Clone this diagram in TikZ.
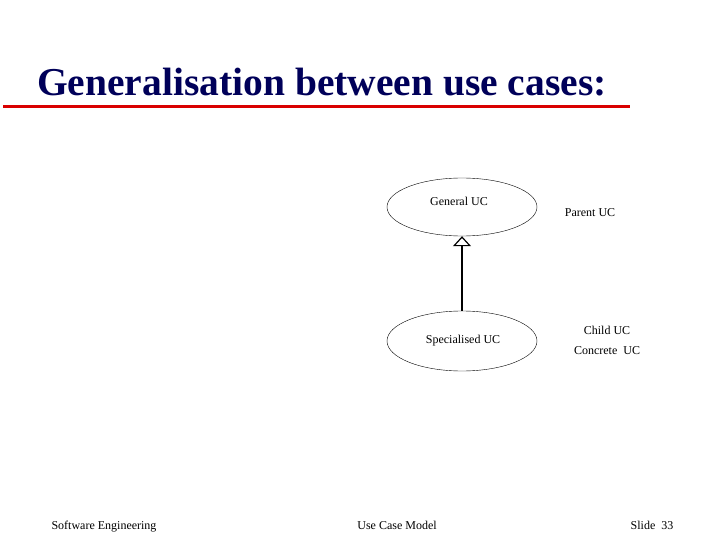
\documentclass[tikz,border=0pt]{standalone}
\usepackage{fontspec}
\usetikzlibrary{shapes.geometric,arrows.meta}
\setmainfont{Liberation Serif}
\begin{document}
\begin{tikzpicture}[x=1pt,y=-1pt,
  uc/.style={draw,ellipse,minimum width=150pt,minimum height=58pt,inner sep=0pt},
  lbl/.style={font=\fontsize{12}{14}\selectfont,inner sep=0pt},
  foot/.style={lbl,anchor=base},
  gen/.style={-{Triangle[open,length=10pt,width=18pt]},line width=1.2pt}]
\useasboundingbox (0,0) rectangle (720,540);
\node[anchor=west,inner sep=0pt,text=blue!35!black,font=\fontsize{39.5}{44}\selectfont\bfseries] (title) at (37,82) {Generalisation between use cases:};
\draw[red!85!black,line width=3pt] (3,107) coordinate (l1) -- (630,107) coordinate (l2);
\node[uc] (g) at (462,207) {};
\node[lbl] (gt) at (459,201) {General UC};
\node[uc,minimum height=60pt] (s) at (462,341) {};
\node[lbl] (st) at (463,341) {Specialised UC};
\draw[gen] (s.north) -- (g.south);
\node[lbl] (p) at (590,213) {Parent UC};
\node[lbl] (c) at (607,330) {Child UC};
\node[lbl] (cc) at (607,351) {Concrete\ \ UC};
\node[foot] (f1) at (104,529) {Software Engineering};
\node[foot] (f2) at (397,529) {Use Case Model};
\node[foot] (f3) at (652,529) {Slide\ \ 33};
\end{tikzpicture}
\end{document}
